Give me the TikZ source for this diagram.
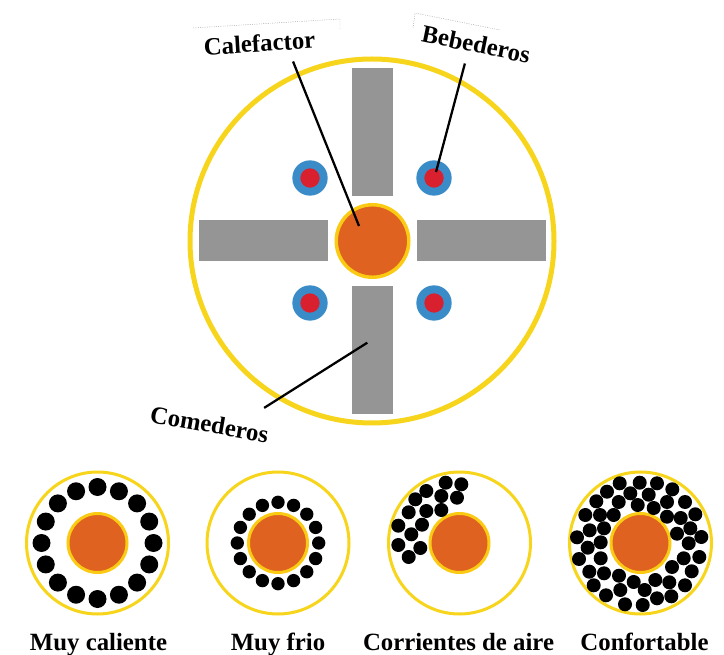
\documentclass[tikz,border=0pt]{standalone}
\usepackage{fontspec}
\setmainfont{Liberation Serif}
\usetikzlibrary{calc}
\definecolor{ringyellow}{HTML}{F7D51D}
\definecolor{heatorange}{HTML}{DF6220}
\definecolor{heatring}{HTML}{FBCB14}
\definecolor{barsgray}{HTML}{959595}
\definecolor{cupblue}{HTML}{3A8CC9}
\definecolor{cupred}{HTML}{D8202F}

\begin{document}
\begin{tikzpicture}[x=0.75pt,y=-0.75pt]
		
		\tikzset{
			disc/.style={circle,inner sep=0pt,outer sep=0pt},
			house/.style={disc,draw=ringyellow,fill=white,line width=3.75pt,minimum size=273pt},
			pen/.style={disc,draw=ringyellow,fill=white,line width=2.25pt,minimum size=106.5pt},
			heater/.style={disc,draw=heatring,fill=heatorange,line width=2.6pt,minimum size=54.4pt},
			minihot/.style={disc,draw=heatring,fill=heatorange,line width=2.25pt,minimum size=44.25pt},
			hbar/.style={fill=barsgray,inner sep=0pt,minimum width=97pt,minimum height=30.75pt},
			vbar/.style={fill=barsgray,inner sep=0pt,minimum width=30.75pt,minimum height=96pt},
			cupout/.style={disc,fill=cupblue,minimum size=26.5pt},
			cupin/.style={disc,fill=cupred,minimum size=14.5pt},
			chickbig/.style={disc,fill=black,minimum size=13.5pt},
			chickmid/.style={disc,fill=black,minimum size=10pt},
			chick/.style={disc,fill=black,minimum size=10.5pt},
			tag/.style={inner sep=0pt,anchor=base,font=\fontsize{18.6pt}{20pt}\selectfont\bfseries},
			leader/.style={draw=black,line width=1.7pt},
			scrap/.style={draw=black!55,line width=0.35pt,densely dotted}
		}
		
		\useasboundingbox (0,0) rectangle (724,655);
		
		\draw[scrap] (193,28) -- (340,19) -- (340,29);
		\draw[scrap] (500,30) -- (415,13) -- (413,28);
		
		\node[house] (House) at (372,241) {};
		
		\node[vbar] (BarN) at (372.5,132) {};
		\node[vbar] (BarS) at (372.5,350) {};
		\node[hbar] (BarW) at (263.5,240.5) {};
		\node[hbar] (BarE) at (481.5,240.5) {};
		
		\node[heater] (Heat) at (372.5,241) {};
		
		\foreach \cx/\cy [count=\i] in {310/178,434/178,310/303,434/303}{
			\node[cupout] (CupOut\i) at (\cx,\cy) {};
			\node[cupin] (Cup\i) at (\cx,\cy) {};
		}
		
		\node[tag,rotate=3.5] (Cal) at (260,51.7) {Calefactor};
		\node[tag,rotate=-11.5] (Beb) at (474.5,52.5) {Bebederos};
		\node[tag,rotate=-10] (Com) at (208,432.5) {Comederos};
		
		\coordinate (CalTip) at (359,226);
		\coordinate (BebTip) at (436,172);
		\coordinate (ComTip) at (367.3,342.7);
		
		\draw[leader] ($(Cal.south)+(33,9.3)$) -- (CalTip);
		\draw[leader] ($(Beb.south)+(-9.5,10.5)$) -- (BebTip);
		\draw[leader] ($(Com.north)+(53.1,-7.4)$) -- (ComTip);
		
		\node[pen] (PenA) at (97.5,543) {};
		\node[pen] (PenB) at (278,543) {};
		\node[pen] (PenC) at (459.5,543) {};
		\node[pen] (PenD) at (640.5,543) {};
		
		\node[minihot] (HotA) at (97.5,543) {};
		\node[minihot] (HotB) at (278,543) {};
		\node[minihot] (HotC) at (459.5,543) {};
		\node[minihot] (HotD) at (640.5,543) {};
		
		\foreach \a [count=\i] in {0,22.5,...,337.5}{
			\node[chickbig] (A\i) at ($(HotA.center)+(\a:56)$) {};
			\node[chickmid] (B\i) at ($(HotB.center)+(\a:40.7)$) {};
		}
		
		\foreach \cx/\cy [count=\i] in {445.7/482.7,461.3/484.3,426.3/491,441.3/496,457/497.7,
			415.3/499.3,426.3/511,441.3/510,408.7/512.3,398.3/525.7,422/524.7,
			411.3/534.3,398.3/545,420.3/548,408.7/557}{
			\node[chick] (C\i) at (\cx,\cy) {};
		}
		
		\foreach \cx/\cy [count=\i] in {619.7/483.3,639.7/482.7,657/483.3,672.3/489.3,607/491.7,
			630.3/493.3,648.7/494.7,596.3/501.3,618.7/502,667/502,685/502,637.7/505,
			653.7/508,585.3/515,600/515,613.7/515,667/516.7,680.7/518,695.3/514.3,
			690.3/528.3,589.7/530.3,604/528.3,677/533.7,701.3/537,577/537.3,
			600.7/542.3,688.7/543.3,587.7/547.7,683.7/558.3,699.3/557,579/559,
			600.7/558.3,672/567,691.7/571.3,589.3/571.7,604/573.3,619/575.7,
			655.3/580,633.7/582,669.3/582.3,685/585.3,593.7/585.3,644.7/590,
			620.3/590,671.3/596.3,657/598.3,606/595.3,625/604.3,642.7/605}{
			\node[chick] (D\i) at (\cx,\cy) {};
		}
		
		\node[tag] (LabA) at (98.5,650) {Muy caliente};
		\node[tag] (LabB) at (278,650) {Muy frio};
		\node[tag] (LabC) at (458.5,650) {Corrientes de aire};
		\node[tag] (LabD) at (644.5,650) {Confortable};
		
	\end{tikzpicture}
\end{document}
